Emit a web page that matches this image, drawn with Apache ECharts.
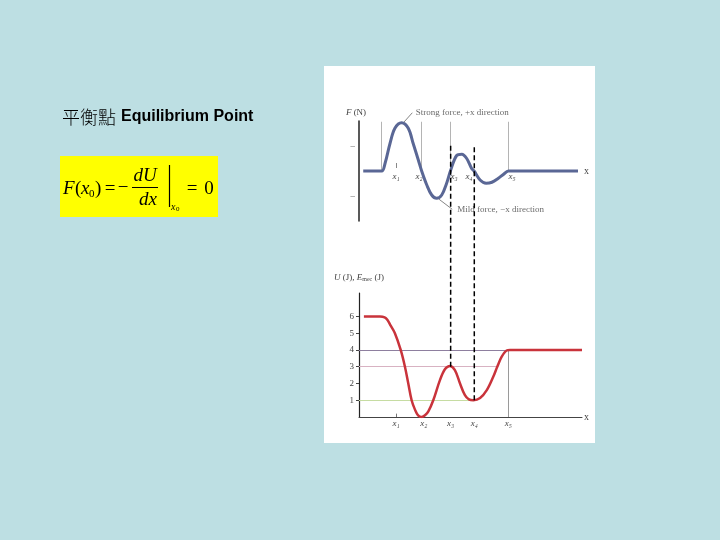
<!DOCTYPE html>
<html><head><meta charset="utf-8">
<script src="https://cdn.jsdelivr.net/npm/echarts@6/dist/echarts.min.js"></script>
<style>html,body{margin:0;padding:0;background:#bddfe3}#c{width:720px;height:540px}</style>
</head><body><div id="c"></div>
<script>
// x is in arbitrary position units (0..100)
const keyX = [16.6, 29.1, 41.1, 51.7, 67.0];
const keyLabels = ['x₁', 'x₂', 'x₃', 'x₄', 'x₅'];
const upperLabelX = [16.6, 26.9, 42.6, 49.3, 68.6];

const forceX = [1.9, 6.0, 10.2, 11.7, 13.9, 16.1, 19.1, 22.1, 24.3, 26.6, 28.1, 30.4, 32.6, 34.8, 37.1, 39.3, 41.0, 43.8, 46.1, 48.3, 50.5, 51.6, 54.3, 57.0, 59.6, 62.5, 64.7, 67.0, 72.0, 98.2];
const forceY = [0, 0, 0, 0.31, 1.1, 1.71, 1.93, 1.71, 1.1, 0.44, 0.0, -0.56, -0.96, -1.09, -0.96, -0.49, 0.0, 0.62, 0.67, 0.5, 0.1, 0.0, -0.36, -0.49, -0.45, -0.29, -0.14, 0, 0, 0];
const forceRefX = [9.9, 28.1, 41.1, 67.0];
const forceRefTop = 1.97;
const forceTicks = [-1, 1];

const energyX = [2.2, 6.0, 9.4, 11.5, 12.7, 14.2, 16.1, 18.7, 20.6, 22.1, 23.6, 25.1, 26.5, 28.1, 29.6, 31.1, 33.3, 36.3, 38.6, 40.8, 43.0, 45.3, 47.5, 49.3, 51.3, 54.3, 57.3, 60.2, 62.0, 64.0, 66.2, 67.7, 72.0, 100];
const energyY = [6, 6, 6, 5.95, 5.8, 5.45, 5.0, 4.0, 3.0, 2.0, 1.0, 0.44, 0.1, 0.0, 0.1, 0.33, 1.0, 2.2, 2.86, 3.05, 2.8, 2.0, 1.3, 1.05, 1.0, 1.13, 1.6, 2.4, 3.0, 3.6, 3.97, 4.0, 4.0, 4.0];
const energyTicks = [1, 2, 3, 4, 5, 6];
const energyLevels = [4, 3, 1];
const levelEnds = [67.0, 62.0, 51.3];
const levelColors = ['#8e7f9f', '#d8b2c2', '#c6dca2'];
const dashX = [41.1, 51.7];
const dashBottom = [3.0, 1.0];
const dashTop = 16.24;

const strongAnchor = [[20.2, 1.96], [23.9, 2.33]];
const strongText = [25.4, 2.33];
const mildAnchor = [[35.9, -1.13], [41.8, -1.53]];
const mildText = [44.1, -1.56];

const serif = 'Liberation Serif';
const zip = (a, b) => a.map((v, i) => [v, b[i]]);

const chart = echarts.init(document.getElementById('c'));
const labelFmt = (arr) => (v) => { const i = arr.findIndex(k => Math.abs(k - v) < 1e-6); return i >= 0 ? keyLabels[i] : ''; };

const option = {
  backgroundColor: '#bddfe3',
  animation: false,
  title: {
    text: '{c|平衡點} {e|Equilibrium Point}',
    left: 62, top: 108, padding: 0,
    textStyle: {
      rich: {
        c: { fontFamily: 'Noto Sans CJK TC', fontSize: 18, fontWeight: 300, color: '#000' },
        e: { fontFamily: 'Liberation Sans', fontSize: 16, fontWeight: 'bold', color: '#000' }
      }
    }
  },
  graphic: [
    { type: 'rect', z: -10, shape: { x: 324, y: 66, width: 271, height: 377 }, style: { fill: '#ffffff' } },
    { type: 'rect', shape: { x: 60, y: 156, width: 158, height: 61 }, style: { fill: '#ffff00' } },
    { type: 'text', x: 63, y: 189, style: { text: 'F', font: 'italic 19px "Liberation Serif"', fill: '#000', verticalAlign: 'middle' } },
    { type: 'text', x: 75, y: 189, style: { text: '(', font: '19px "Liberation Serif"', fill: '#000', verticalAlign: 'middle' } },
    { type: 'text', x: 81, y: 189, style: { text: 'x', font: 'italic 19px "Liberation Serif"', fill: '#000', verticalAlign: 'middle' } },
    { type: 'text', x: 89, y: 194, style: { text: '0', font: '11px "Liberation Serif"', fill: '#000', verticalAlign: 'middle' } },
    { type: 'text', x: 95, y: 189, style: { text: ')', font: '19px "Liberation Serif"', fill: '#000', verticalAlign: 'middle' } },
    { type: 'text', x: 110, y: 189, style: { text: '=', font: '19px "Liberation Serif"', fill: '#000', verticalAlign: 'middle', align: 'center' } },
    { type: 'text', x: 123, y: 188, style: { text: '−', font: '19px "Liberation Serif"', fill: '#000', verticalAlign: 'middle', align: 'center' } },
    { type: 'text', x: 145, y: 176, style: { text: 'dU', font: 'italic 19px "Liberation Serif"', fill: '#000', verticalAlign: 'middle', align: 'center' } },
    { type: 'line', shape: { x1: 132, y1: 187.5, x2: 158, y2: 187.5 }, style: { stroke: '#000', lineWidth: 1 } },
    { type: 'text', x: 148, y: 199.5, style: { text: 'dx', font: 'italic 19px "Liberation Serif"', fill: '#000', verticalAlign: 'middle', align: 'center' } },
    { type: 'line', shape: { x1: 169.5, y1: 165, x2: 169.5, y2: 207 }, style: { stroke: '#000', lineWidth: 1.2 } },
    { type: 'text', x: 171, y: 207, style: { text: 'x', font: 'italic 10px "Liberation Serif"', fill: '#000', verticalAlign: 'middle' } },
    { type: 'text', x: 176, y: 209, style: { text: '0', font: '7px "Liberation Serif"', fill: '#000', verticalAlign: 'middle' } },
    { type: 'text', x: 192, y: 189, style: { text: '=', font: '19px "Liberation Serif"', fill: '#000', verticalAlign: 'middle', align: 'center' } },
    { type: 'text', x: 209, y: 189, style: { text: '0', font: '19px "Liberation Serif"', fill: '#000', verticalAlign: 'middle', align: 'center' } }
  ],
  grid: [
    { left: 359, top: 121, width: 223, height: 100 },
    { left: 359, top: 293, width: 223, height: 124 }
  ],
  xAxis: [
    {
      gridIndex: 0, type: 'value', min: 0, max: 100, offset: -50,
      axisLine: { show: false, onZero: false }, axisTick: { show: false }, splitLine: { show: false },
      axisLabel: { customValues: upperLabelX, formatter: labelFmt(upperLabelX), margin: 1,
        fontFamily: serif, fontStyle: 'italic', fontSize: 9, color: '#444' },
      name: 'x', nameLocation: 'end', nameGap: 2,
      nameTextStyle: { fontFamily: serif, fontSize: 10, color: '#444', verticalAlign: 'middle' }
    },
    {
      gridIndex: 1, type: 'value', min: 0, max: 100,
      axisLine: { show: true, lineStyle: { color: '#444', width: 1 } },
      axisTick: { show: false }, splitLine: { show: false },
      axisLabel: { customValues: keyX, formatter: labelFmt(keyX), margin: 2,
        fontFamily: serif, fontStyle: 'italic', fontSize: 9, color: '#444' },
      name: 'x', nameLocation: 'end', nameGap: 2,
      nameTextStyle: { fontFamily: serif, fontSize: 10, color: '#444', verticalAlign: 'middle' }
    }
  ],
  yAxis: [
    {
      gridIndex: 0, type: 'value', min: -2, max: 2,
      axisLine: { show: true, onZero: false, lineStyle: { color: '#222', width: 1.5 } },
      axisTick: { show: false }, splitLine: { show: false },
      axisLabel: { customValues: forceTicks, formatter: () => '–', margin: 4, fontSize: 9, color: '#555', fontFamily: serif },
      name: '{i|F} (N)', nameLocation: 'end', nameGap: 4,
      nameTextStyle: { fontFamily: serif, fontSize: 9, color: '#444', padding: [0, 6, 0, 0],
        rich: { i: { fontFamily: serif, fontStyle: 'italic', fontSize: 9, color: '#444' } } }
    },
    {
      gridIndex: 1, type: 'value', min: 0, max: 7.4,
      axisLine: { show: true, onZero: false, lineStyle: { color: '#222', width: 1.2 } },
      axisTick: { show: true, customValues: energyTicks, length: 3, lineStyle: { color: '#444' } },
      splitLine: { show: false },
      axisLabel: { customValues: energyTicks, margin: 5, fontFamily: serif, fontSize: 9, color: '#444' },
      name: '{i|U} (J), {i|E}{s|mec} (J)', nameLocation: 'end', nameGap: 11,
      nameTextStyle: { fontFamily: serif, fontSize: 9, color: '#444',
        rich: { i: { fontFamily: serif, fontStyle: 'italic', fontSize: 9, color: '#444' },
                s: { fontFamily: serif, fontSize: 6, color: '#444', verticalAlign: 'bottom', lineHeight: 8 } } }
    }
  ],
  series: [
    {
      type: 'line', xAxisIndex: 0, yAxisIndex: 0, data: zip(forceX, forceY),
      smooth: 0.35, showSymbol: false, z: 5,
      lineStyle: { color: '#5a6795', width: 3 },
      markLine: {
        silent: true, symbol: 'none', label: { show: false },
        lineStyle: { color: '#b4b4b4', width: 1, type: 'solid' },
        data: forceRefX.map(x => [{ coord: [x, 0] }, { coord: [x, forceRefTop] }])
          .concat([[{ coord: [keyX[0], 0.12] }, { coord: [keyX[0], 0.32], lineStyle: { color: '#888' } }]])
      }
    },
    {
      type: 'line', xAxisIndex: 0, yAxisIndex: 0, data: strongAnchor, clip: false,
      showSymbol: false, lineStyle: { color: '#666', width: 0.8 }
    },
    {
      type: 'line', xAxisIndex: 0, yAxisIndex: 0, data: mildAnchor, clip: false,
      showSymbol: false, lineStyle: { color: '#666', width: 0.8 }
    },
    {
      type: 'scatter', xAxisIndex: 0, yAxisIndex: 0, clip: false, symbolSize: 0,
      data: [
        { value: strongText, name: 'Strong force, +x direction' },
        { value: mildText, name: 'Mild force, −x direction' }
      ],
      label: { show: true, position: 'right', distance: 0, formatter: '{b}',
        fontFamily: serif, fontSize: 9, color: '#444' }
    },
    {
      type: 'line', xAxisIndex: 1, yAxisIndex: 1, data: zip(energyX, energyY),
      smooth: 0.35, showSymbol: false, z: 5,
      lineStyle: { color: '#c9333b', width: 2.5 },
      markLine: {
        silent: true, symbol: 'none', label: { show: false },
        data: energyLevels.map((lv, i) => [
          { coord: [0, lv], lineStyle: { color: levelColors[i], width: 1, type: 'solid' } },
          { coord: [levelEnds[i], lv] }
        ]).concat([
          [{ coord: [keyX[4], 0], lineStyle: { color: '#9a9a9a', width: 1, type: 'solid' } }, { coord: [keyX[4], 4] }],
          [{ coord: [keyX[0], 0], lineStyle: { color: '#777', width: 1, type: 'solid' } }, { coord: [keyX[0], 0.2] }]
        ])
      }
    }
  ].concat(dashX.map((x, i) => ({
    type: 'line', xAxisIndex: 1, yAxisIndex: 1, clip: false, showSymbol: false, z: 6,
    data: [[x, dashBottom[i]], [x, dashTop]],
    lineStyle: { color: '#000', width: 1.5, type: [5, 3] }
  })))
};
chart.setOption(option);
</script>
</body></html>
